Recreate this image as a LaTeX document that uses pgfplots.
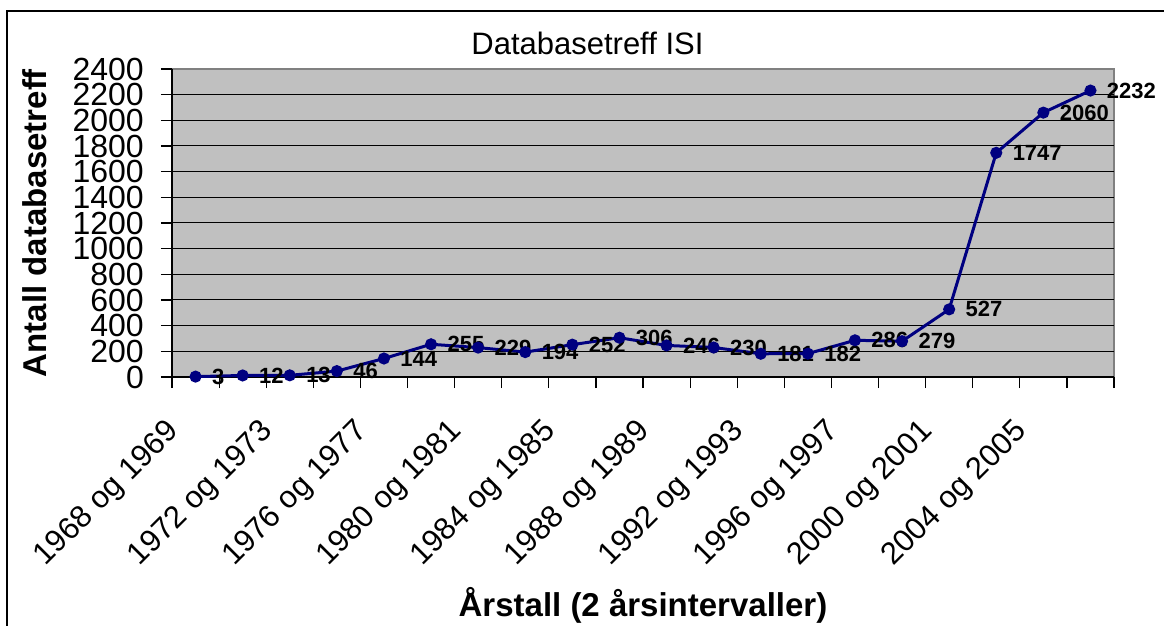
\documentclass[border=0pt]{standalone}
\usepackage{pgfplots}
\usepackage{pgfplotstable}
\pgfplotsset{compat=1.18}
\usepackage{fontspec}
\setmainfont{Liberation Sans}
\definecolor{plotgray}{HTML}{C0C0C0}
\definecolor{navyline}{HTML}{000080}
\definecolor{bordergray}{HTML}{808080}

\pgfplotstableread{
x y lab
0 3 3
1 12 12
2 13 13
3 46 46
4 144 144
5 255 255
6 229 229
7 194 194
8 252 252
9 306 306
10 246 246
11 230 230
12 181 181
13 182 182
14 286 286
15 279 279
16 527 527
17 1747 1747
18 2060 2060
19 2232 2232
}\datatable

\begin{document}
\begin{tikzpicture}
\useasboundingbox (0pt,0pt) rectangle (1164pt,626pt);
\draw[line width=1.5pt] (7pt,-10pt) -- (7pt,615pt) -- (1180pt,615pt);
\begin{axis}[
  at={(172pt,249pt)}, anchor=south west,
  scale only axis, width=942pt, height=308pt,
  xmin=-0.5, xmax=19.5, ymin=0, ymax=2400,
  axis background/.style={fill=plotgray, draw=bordergray, line width=1.2pt},
  axis x line*=bottom, axis y line*=left,
  axis line style={black, line width=1.2pt},
  tick align=outside,
  major tick length=11pt,
  tick style={black, line width=1.2pt},
  xtick={-0.5,0.5,...,19.5},
  xticklabels={},
  extra x ticks={0,2,4,6,8,10,12,14,16,18},
  extra x tick labels={1968 og 1969,1972 og 1973,1976 og 1977,1980 og 1981,1984 og 1985,1988 og 1989,1992 og 1993,1996 og 1997,2000 og 2001,2004 og 2005},
  extra x tick style={major tick length=0pt, grid=none},
  xticklabel style={font=\fontsize{31}{31}\selectfont, inner sep=0pt, xshift=-31pt, yshift=-40pt, rotate=45, anchor=north east},
  ytick={0,200,...,2200},
  extra y ticks={2400},
  extra y tick style={grid=none},
  scaled y ticks=false,
  /pgf/number format/1000 sep={},
  /pgf/number format/assume math mode=true,
  yticklabel style={font=\fontsize{32}{32}\selectfont, inner sep=0pt, anchor=east, xshift=-17pt},
  ymajorgrids,
  grid style={black, line width=1pt},
  ylabel={Antall databasetreff},
  every axis y label/.style={at={(rel axis cs:-0.1454,0.5)}, rotate=90, anchor=center, font=\bfseries\fontsize{33}{33}\selectfont},
  xlabel={Årstall (2 årsintervaller)},
  every axis x label/.style={at={(rel axis cs:0.5,-0.779)}, anchor=base, font=\bfseries\fontsize{33}{33}\selectfont},
  title={Databasetreff ISI},
  title style={at={(rel axis cs:0.441,1.029)}, anchor=base, font=\fontsize{31}{31}\selectfont},
  clip=false,
]
\addplot[navyline, line width=3pt, mark=*, mark size=4.5pt, mark options={fill=navyline, draw=navyline},
  point meta=explicit symbolic,
  nodes near coords={\pgfplotspointmeta},
  nodes near coords style={anchor=west, xshift=15pt, inner sep=0pt, text=black, font=\bfseries\fontsize{22}{22}\selectfont}]
  table[x=x, y=y, meta=lab] {\datatable};
\end{axis}
\end{tikzpicture}
\end{document}
